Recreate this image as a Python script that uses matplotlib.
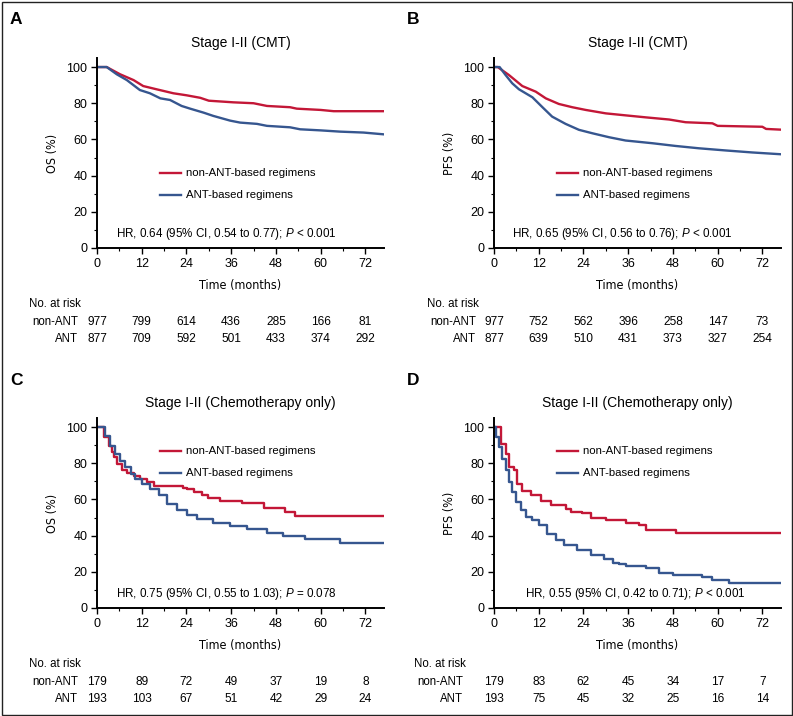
import matplotlib
matplotlib.use("Agg")
import matplotlib.pyplot as plt
from matplotlib.patches import Rectangle

plt.rcParams['font.family'] = ['Liberation Sans', 'DejaVu Sans']
plt.rcParams['mathtext.fontset'] = 'custom'
plt.rcParams['mathtext.it'] = 'Liberation Sans:italic'
plt.rcParams['mathtext.rm'] = 'Liberation Sans'

RED = '#c31737'
BLUE = '#36568f'

# time points (months) at risk table
months = [0, 12, 24, 36, 48, 60, 72]

# panel A - OS, stage I-II CMT
a_t_non = [0, 2.6, 6.2, 9.8, 12.4, 16, 20.5, 24, 27.7, 30, 36.6, 42, 45.6, 51.8, 53.6, 60, 63.5, 77]
a_s_non = [100, 100, 96, 92.8, 89.5, 87.7, 85.5, 84.4, 83, 81.4, 80.5, 80, 78.5, 77.8, 77, 76.3, 75.6, 75.6]
a_t_ant = [0, 2.6, 5.3, 8, 11.5, 14.2, 17, 19.6, 22.7, 25, 28.6, 31.2, 35.7, 38.4, 42.9, 45.6, 51.8, 54.5, 60, 65.3, 71.5, 77]
a_s_ant = [100, 100, 96, 92.8, 87.3, 85.5, 82.7, 81.8, 78.5, 77, 74.8, 73, 70.4, 69.3, 68.6, 67.5, 66.7, 65.6, 65, 64.3, 63.8, 62.8]
a_risk_non = [977, 799, 614, 436, 285, 166, 81]
a_risk_ant = [877, 709, 592, 501, 433, 374, 292]

# panel B - PFS, stage I-II CMT
b_t_non = [0, 1, 4, 7.6, 11.2, 13.9, 17.4, 21, 24.6, 30, 35.3, 40.7, 47, 51.4, 58.6, 60, 72, 73, 77]
b_s_non = [100, 100, 95.6, 89.5, 86.4, 82.7, 79.6, 77.8, 76.3, 74.4, 73.3, 72.2, 71, 69.5, 68.9, 67.5, 67, 65.8, 65.4]
b_t_ant = [0, 1.5, 3.1, 4.9, 6.7, 10.3, 13, 15.6, 19.2, 22.8, 26.4, 30.9, 35.3, 42.5, 48.7, 55, 62.2, 69.3, 77]
b_s_ant = [100, 100, 95.6, 91, 87.7, 83.3, 77.8, 72.6, 68.6, 65.3, 63.4, 61.2, 59.4, 57.9, 56.4, 55.1, 53.9, 52.8, 51.8]
b_risk_non = [977, 752, 562, 396, 258, 147, 73]
b_risk_ant = [877, 639, 510, 431, 373, 327, 254]

# panel C - OS, stage I-II chemotherapy only
c_t_non = [0, 1.8, 3.1, 4.0, 4.5, 5.4, 6.7, 8.1, 9.9, 11.6, 13.4, 15.2, 23.2, 24.1, 25.9, 28.1, 29.9, 33,
           38.9, 44.7, 50.5, 53.2, 77]
c_s_non = [100, 94.3, 89.7, 86, 83.3, 79.6, 76, 74.5, 73.2, 71.4, 69.5, 67.3, 66.4, 65.5, 64.2, 62.4, 60.6,
           59.3, 57.8, 55, 53.2, 50.8, 50.8]
c_t_ant = [0, 2.2, 3.6, 4.9, 6.3, 7.6, 9.0, 10.3, 12.1, 14.3, 16.6, 18.8, 21.5, 24.2, 26.9, 31.2, 35.7,
           40.2, 45.6, 50, 55.9, 65.3, 77]
c_s_ant = [100, 95.2, 89.7, 85.1, 81.5, 77.8, 74.1, 71.4, 68.6, 65.9, 62.2, 57.6, 53.9, 51.2, 49.4, 46.8,
           45.3, 43.5, 41.3, 39.8, 38, 36.1, 36.1]
c_risk_non = [179, 89, 72, 49, 37, 19, 8]
c_risk_ant = [193, 103, 67, 51, 42, 29, 24]

# panel D - PFS, stage I-II chemotherapy only
d_t_non = [0, 1.8, 3.1, 4.0, 5.4, 6.3, 7.6, 9.8, 12.5, 15.2, 19.2, 20.6, 23.7, 25.9, 30, 35.3, 38.9,
           40.7, 48.7, 77]
d_s_non = [100, 90.6, 85.1, 77.8, 76, 68.6, 64.9, 62.2, 59.4, 56.7, 54.9, 53, 52.7, 49.9, 48.6, 47.2,
           45.9, 43.1, 41.7, 41.7]
d_t_ant = [0, 0.5, 1.3, 2.2, 3.1, 4.0, 4.9, 5.8, 7.2, 8.5, 10.3, 12.1, 14.3, 16.5, 18.8, 22.4, 25.9,
           29.5, 31.8, 33.5, 35.3, 40.7, 44.3, 47.9, 55.9, 58.6, 63, 77]
d_s_ant = [100, 94.5, 88.8, 82.4, 76, 69.5, 64, 58.5, 53.9, 50.3, 48.4, 45.7, 41.1, 37.4, 34.7, 31.9,
           29.2, 27.3, 25.1, 24.2, 23.3, 22, 19.6, 18.3, 17.4, 15.6, 13.8, 13.8]
d_risk_non = [179, 83, 62, 45, 34, 17, 7]
d_risk_ant = [193, 75, 45, 32, 25, 16, 14]

W, H = 793, 716
fig = plt.figure(figsize=(W / 100, H / 100), dpi=100)

panels = [
    ('A', 'Stage I-II (CMT)', 'OS (%)', 'HR, 0.64 (95% CI, 0.54 to 0.77); $\\mathit{P}$ < 0.001',
     a_t_non, a_s_non, a_t_ant, a_s_ant, a_risk_non, a_risk_ant, 97, 248, False, 0.395, 19),
    ('B', 'Stage I-II (CMT)', 'PFS (%)', 'HR, 0.65 (95% CI, 0.56 to 0.76); $\\mathit{P}$ < 0.001',
     b_t_non, b_s_non, b_t_ant, b_s_ant, b_risk_non, b_risk_ant, 494, 248, False, 0.395, 18),
    ('C', 'Stage I-II (Chemotherapy only)', 'OS (%)', 'HR, 0.75 (95% CI, 0.55 to 1.03); $\\mathit{P}$ = 0.078',
     c_t_non, c_s_non, c_t_ant, c_s_ant, c_risk_non, c_risk_ant, 97, 608, True, 0.826, 19),
    ('D', 'Stage I-II (Chemotherapy only)', 'PFS (%)', 'HR, 0.55 (95% CI, 0.42 to 0.71); $\\mathit{P}$ < 0.001',
     d_t_non, d_s_non, d_t_ant, d_s_ant, d_risk_non, d_risk_ant, 494, 608, True, 0.826, 31),
]

aw, ah = 287, 190
for (letter, title, ylab, hr, tn, sn, ta, sa, rn, ra, left, bottom, stepped, leg_y, lab_off) in panels:
    ax = fig.add_axes([left / W, 1 - bottom / H, aw / W, ah / H])
    ds = 'steps-post' if stepped else 'default'
    ax.plot(tn, sn, color=RED, lw=1.7, drawstyle=ds)
    ax.plot(ta, sa, color=BLUE, lw=1.7, drawstyle=ds)
    ax.set_xlim(0, 77)
    ax.set_ylim(0, 105)
    for s in ['top', 'right']:
        ax.spines[s].set_visible(False)
    for s in ['left', 'bottom']:
        ax.spines[s].set_linewidth(1.4)
    ax.set_xticks(months)
    ax.set_xticks(range(6, 78, 12), minor=True)
    ax.set_yticks(range(0, 101, 20))
    ax.set_yticks(range(10, 100, 20), minor=True)
    ax.tick_params(which='major', direction='out', length=4, width=1, labelsize=9, pad=3)
    ax.tick_params(which='minor', direction='out', length=2.5, width=0.8)
    ax.set_ylabel(ylab, fontsize=9, family='DejaVu Sans', fontstretch='condensed', labelpad=5)

    ax.text(0.5, 1 + 15 / ah, title, transform=ax.transAxes, ha='center', va='center', fontsize=10)
    ax.text(0.5, -37 / ah, 'Time (months)', transform=ax.transAxes, ha='center', va='center',
            fontsize=9, family='DejaVu Sans', fontstretch='condensed')
    ax.text(lab_off / aw, 14 / ah, hr, transform=ax.transAxes, ha='left', va='center', fontsize=8.4)

    # legend
    ax.plot([63 / aw, 84 / aw], [leg_y, leg_y], color=RED, lw=1.7, transform=ax.transAxes, clip_on=False)
    ax.plot([63 / aw, 84 / aw], [leg_y - 22 / ah, leg_y - 22 / ah], color=BLUE, lw=1.7,
            transform=ax.transAxes, clip_on=False)
    ax.text(89 / aw, leg_y, 'non-ANT-based regimens', transform=ax.transAxes, va='center', fontsize=8.2)
    ax.text(89 / aw, leg_y - 22 / ah, 'ANT-based regimens', transform=ax.transAxes, va='center', fontsize=8.2)

    # number at risk table
    tr = ax.get_xaxis_transform()
    ax.text(-(lab_off + 49) / aw, -56 / ah, 'No. at risk', transform=ax.transAxes, ha='left', va='center',
            fontsize=8.3)
    ax.text(-lab_off / aw, -74 / ah, 'non-ANT', transform=ax.transAxes, ha='right', va='center', fontsize=8.3)
    ax.text(-lab_off / aw, -91 / ah, 'ANT', transform=ax.transAxes, ha='right', va='center', fontsize=8.3)
    for m, n1, n2 in zip(months, rn, ra):
        ax.text(m, -74 / ah, str(n1), transform=tr, ha='center', va='center', fontsize=8.6)
        ax.text(m, -91 / ah, str(n2), transform=tr, ha='center', va='center', fontsize=8.6)

    fig.text((left - 87) / W, 1 - (bottom - 228) / H, letter, fontsize=12.5, fontweight='bold',
             ha='left', va='center')

fig.patches.append(Rectangle((1.5 / W, 1.5 / H), 1 - 3 / W, 1 - 3 / H, transform=fig.transFigure,
                             fill=False, lw=1.0, ec='#222222'))

fig.savefig('out.png', dpi=100)
